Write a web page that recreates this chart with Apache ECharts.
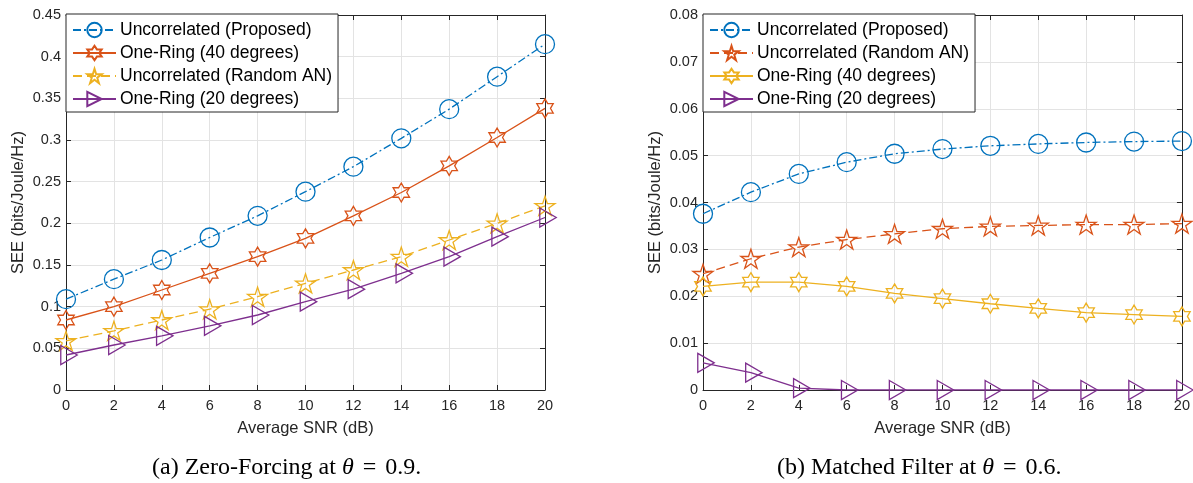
<!DOCTYPE html>
<html><head><meta charset="utf-8">
<script src="https://cdn.jsdelivr.net/npm/echarts@6/dist/echarts.min.js"></script>
<style>html,body{margin:0;padding:0;background:#fff;} #c{width:1193px;height:483px;}</style>
</head><body><div id="c"></div>
<script>
// ---- data ----
const snr = [0, 2, 4, 6, 8, 10, 12, 14, 16, 18, 20];
// (a) Zero-Forcing at theta = 0.9
const zfProposed  = [0.109, 0.133, 0.156, 0.183, 0.209, 0.238, 0.268, 0.302, 0.337, 0.376, 0.415];
const zfOneRing40 = [0.084, 0.100, 0.120, 0.140, 0.160, 0.182, 0.209, 0.237, 0.269, 0.303, 0.338];
const zfRandomAN  = [0.059, 0.071, 0.084, 0.097, 0.112, 0.128, 0.144, 0.160, 0.180, 0.200, 0.221];
const zfOneRing20 = [0.042, 0.054, 0.065, 0.077, 0.090, 0.106, 0.121, 0.140, 0.160, 0.184, 0.207];
// (b) Matched Filter at theta = 0.6
const mfProposed  = [0.0376, 0.0422, 0.0461, 0.0486, 0.0504, 0.0514, 0.0521, 0.0525, 0.0528, 0.0530, 0.0531];
const mfRandomAN  = [0.0248, 0.0280, 0.0305, 0.0321, 0.0333, 0.0344, 0.0349, 0.0351, 0.0353, 0.0353, 0.0355];
const mfOneRing40 = [0.0221, 0.0230, 0.0230, 0.0221, 0.0206, 0.0195, 0.0184, 0.0174, 0.0165, 0.0161, 0.0157];
const mfOneRing20 = [0.0058, 0.0037, 0.0004, 0, 0, 0, 0, 0, 0, 0, 0];

const nameProposed = 'Uncorrelated (Proposed)';
const nameRing40 = 'One-Ring (40 degrees)';
const nameRandom = 'Uncorrelated (Random AN)';
const nameRing20 = 'One-Ring (20 degrees)';
const captionA = ['(a) Zero-Forcing at ', 'θ', '=', '0.9.'];
const captionB = ['(b) Matched Filter at ', 'θ', '=', '0.6.'];
const xTitle = 'Average SNR (dB)';
const yTitle = 'SEE (bits/Joule/Hz)';

// ---- styling ----
const C = { blue: '#0072BD', orange: '#D95319', yellow: '#EDB120', purple: '#7E2F8E' };
const SYM = {
  circle: 'circle',
  pent: 'path://M100,0L122.45,69.1L195.1,69.1L136.3,111.8L158.8,180.9L100,138.2L41.2,180.9L63.7,111.8L4.9,69.1L77.55,69.1Z',
  hex: 'path://M100,0L128.87,50L186.6,50L157.7,100L186.6,150L128.87,150L100,200L71.13,150L13.4,150L42.3,100L13.4,50L71.13,50Z',
  tri: 'path://M0,0L173.2,100L0,200Z'
};
const FONT = 'Liberation Sans, Arial, sans-serif';
const SERIF = '"Liberation Serif", serif';
const AX = '#262626';

function mk(name, vals, color, sym, size, dash, xi, yi) {
  const s = {
    type: 'line', name: name, xAxisIndex: xi, yAxisIndex: yi,
    data: snr.map((x, i) => [x, vals[i]]),
    symbol: SYM[sym], symbolSize: size, symbolKeepAspect: true,
    showAllSymbol: true,
    lineStyle: { color: color, width: 1.3, type: dash },
    itemStyle: { color: 'rgba(255,255,255,0)', borderColor: color, borderWidth: 1.3 },
    emphasis: { disabled: true }, silent: true, z: 3
  };
  if (sym === 'tri') s.symbolOffset = [3, 0];
  return s;
}
const dashDot = [8, 3, 2, 3];
const dashed = [9, 5];

function grid(left) { return { left: left, top: 15, width: 479, height: 375, show: false }; }
function xMain(gi) {
  return { type: 'value', gridIndex: gi, min: 0, max: 20, interval: 2, position: 'bottom',
    name: xTitle, nameLocation: 'middle', nameGap: 30,
    nameTextStyle: { fontFamily: FONT, fontSize: 16.5, color: AX },
    axisLine: { show: true, lineStyle: { color: AX, width: 1 } },
    axisTick: { show: true, inside: true, length: 5, lineStyle: { color: AX } },
    axisLabel: { fontFamily: FONT, fontSize: 14.5, color: AX, margin: 8 },
    splitLine: { show: true, lineStyle: { color: '#e3e3e3', width: 1 } } };
}
function xTop(gi) {
  return { type: 'value', gridIndex: gi, min: 0, max: 20, interval: 2, position: 'top',
    axisLine: { show: true, onZero: false, lineStyle: { color: AX, width: 1 } },
    axisTick: { show: true, inside: true, length: 5, lineStyle: { color: AX } },
    axisLabel: { show: false }, splitLine: { show: false } };
}
function yMain(gi, max, interval) {
  return { type: 'value', gridIndex: gi, min: 0, max: max, interval: interval, position: 'left',
    name: yTitle, nameLocation: 'middle', nameGap: 39,
    nameTextStyle: { fontFamily: FONT, fontSize: 16.5, color: AX },
    axisLine: { show: true, onZero: false, lineStyle: { color: AX, width: 1 } },
    axisTick: { show: true, inside: true, length: 5, lineStyle: { color: AX } },
    axisLabel: { fontFamily: FONT, fontSize: 14.5, color: AX, margin: 5,
      formatter: v => String(parseFloat(v.toFixed(4))) },
    splitLine: { show: true, lineStyle: { color: '#e3e3e3', width: 1 } } };
}
function yRight(gi, max, interval) {
  return { type: 'value', gridIndex: gi, min: 0, max: max, interval: interval, position: 'right',
    axisLine: { show: true, onZero: false, lineStyle: { color: AX, width: 1 } },
    axisTick: { show: true, inside: true, length: 5, lineStyle: { color: AX } },
    axisLabel: { show: false }, splitLine: { show: false } };
}
function legend(left, names) {
  return { left: left, top: 14, orient: 'vertical', itemWidth: 43, itemHeight: 18, itemGap: 5,
    padding: [7, 6, 4, 6], backgroundColor: '#fff', borderColor: AX, borderWidth: 1,
    textStyle: { fontFamily: FONT, fontSize: 17.5, color: '#000', padding: [0, 0, 0, -1] },
    formatter: n => n.trim(), selectedMode: false, data: names, z: 10 };
}
function caption(left, parts) {
  return { type: 'text', left: left, top: 456, silent: true,
    style: { text: parts[0] + '{i|' + parts[1] + '}{e|' + parts[2] + '}' + parts[3],
      font: '24px ' + SERIF, fill: '#000',
      rich: { i: { fontStyle: 'italic', fontFamily: 'Liberation Serif', fontSize: 24 },
              e: { fontFamily: 'Liberation Serif', fontSize: 24, padding: [0, 9, 0, 9] } } } };
}

const option = {
  animation: false,
  backgroundColor: '#fff',
  grid: [grid(66), grid(703)],
  xAxis: [xMain(0), xTop(0), xMain(1), xTop(1)],
  yAxis: [yMain(0, 0.45, 0.05), yRight(0, 0.45, 0.05), yMain(1, 0.08, 0.01), yRight(1, 0.08, 0.01)],
  legend: [
    legend(66, [nameProposed, nameRing40, nameRandom, nameRing20]),
    legend(703, [nameProposed + ' ', nameRandom + ' ', nameRing40 + ' ', nameRing20 + ' '])
  ],
  series: [
    mk(nameProposed, zfProposed, C.blue, 'circle', 19, dashDot, 0, 0),
    mk(nameRing40, zfOneRing40, C.orange, 'hex', 19, 'solid', 0, 0),
    mk(nameRandom, zfRandomAN, C.yellow, 'pent', 20, dashed, 0, 0),
    mk(nameRing20, zfOneRing20, C.purple, 'tri', 19, 'solid', 0, 0),
    mk(nameProposed + ' ', mfProposed, C.blue, 'circle', 19, dashDot, 2, 2),
    mk(nameRandom + ' ', mfRandomAN, C.orange, 'pent', 20, dashed, 2, 2),
    mk(nameRing40 + ' ', mfOneRing40, C.yellow, 'hex', 19, 'solid', 2, 2),
    mk(nameRing20 + ' ', mfOneRing20, C.purple, 'tri', 19, 'solid', 2, 2)
  ],
  graphic: [caption(152, captionA), caption(777, captionB)]
};
const chart = echarts.init(document.getElementById('c'), null, { renderer: 'canvas' });
chart.setOption(option);
</script>
</body></html>
